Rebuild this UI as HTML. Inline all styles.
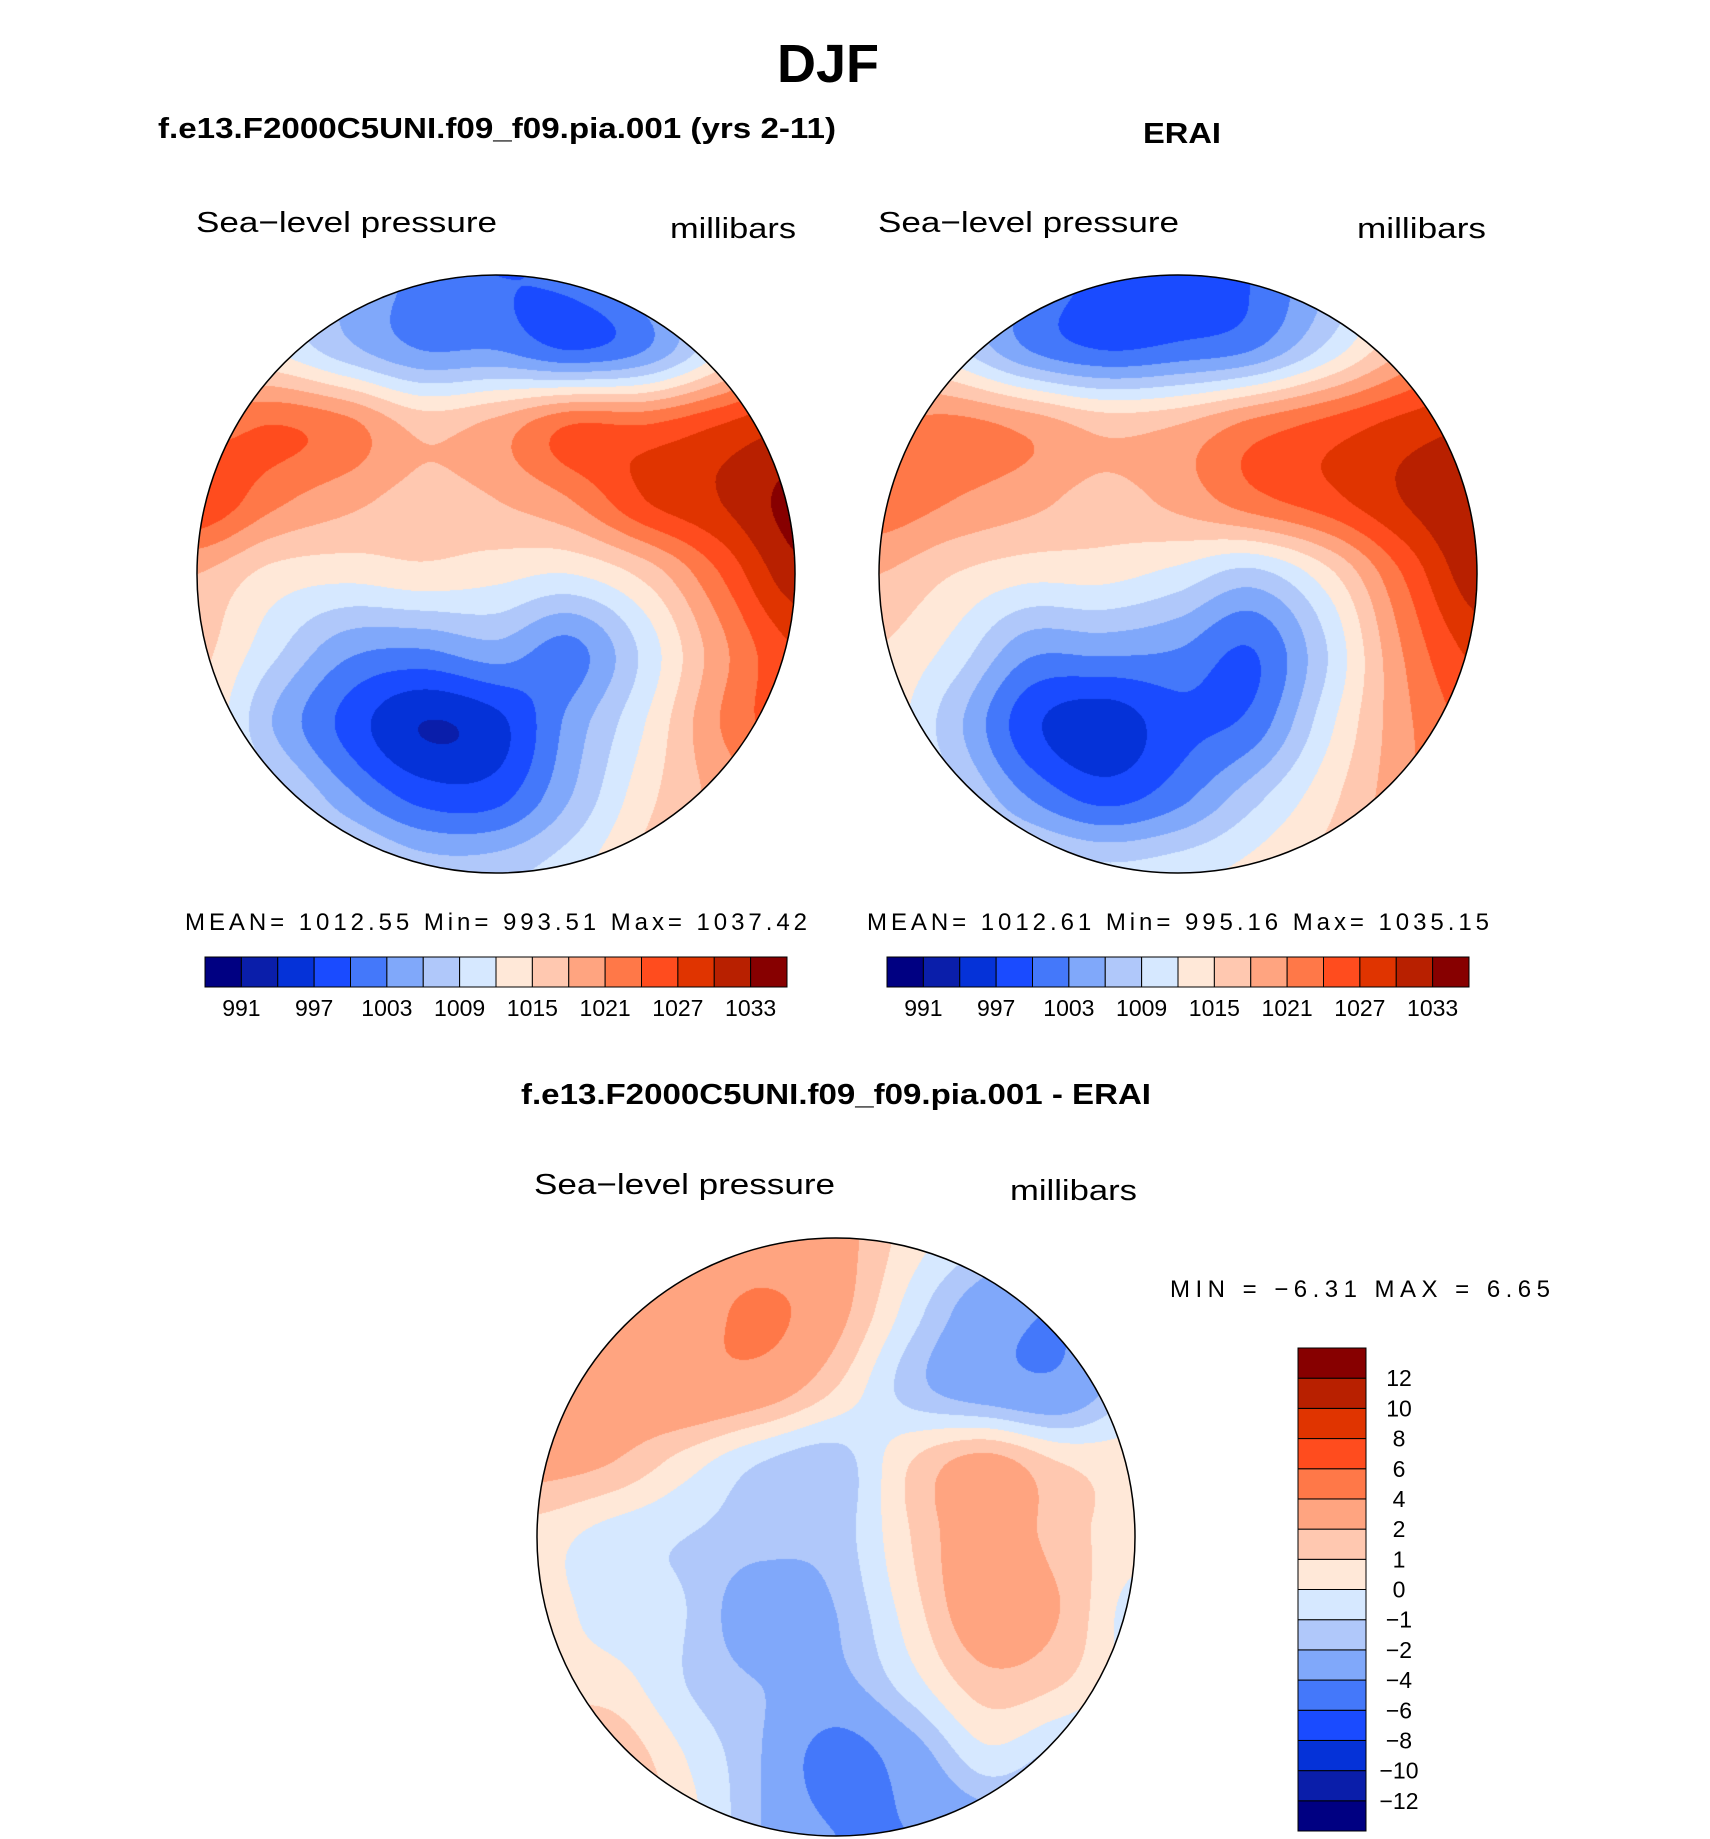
<!DOCTYPE html>
<html><head><meta charset="utf-8"><style>
html,body{margin:0;padding:0;background:#fff;}
#root{position:relative;width:1710px;height:1839px;overflow:hidden;}
canvas{position:absolute;}
svg{position:absolute;left:0;top:0;}
text{font-family:"Liberation Sans",sans-serif;fill:#000;}
.b{font-weight:bold;}
</style></head><body>
<div id="root">
<canvas id="m1" width="598" height="598" style="left:197px;top:275px"></canvas>
<canvas id="m2" width="598" height="598" style="left:879px;top:275px"></canvas>
<canvas id="m3" width="598" height="598" style="left:537px;top:1238px"></canvas>
<svg id="s" width="1710" height="1839">
<text x="828" y="82" text-anchor="middle" class="b" font-size="54">DJF</text>
<text x="158" y="138" class="b" font-size="29" textLength="678" lengthAdjust="spacingAndGlyphs">f.e13.F2000C5UNI.f09_f09.pia.001 (yrs 2-11)</text>
<text x="1143" y="143" class="b" font-size="29" textLength="78" lengthAdjust="spacingAndGlyphs">ERAI</text>
<text x="196" y="232" font-size="29" textLength="301" lengthAdjust="spacingAndGlyphs">Sea−level pressure</text>
<text x="670" y="238" font-size="29" textLength="126" lengthAdjust="spacingAndGlyphs">millibars</text>
<text x="878" y="232" font-size="29" textLength="301" lengthAdjust="spacingAndGlyphs">Sea−level pressure</text>
<text x="1357" y="238" font-size="29" textLength="129" lengthAdjust="spacingAndGlyphs">millibars</text>
<text x="185" y="930" font-size="24" textLength="622" lengthAdjust="spacing">MEAN=  1012.55   Min=  993.51   Max=  1037.42</text>
<text x="867" y="930" font-size="24" textLength="622" lengthAdjust="spacing">MEAN=  1012.61   Min=  995.16   Max=  1035.15</text>
<text x="521" y="1104" class="b" font-size="29" textLength="630" lengthAdjust="spacingAndGlyphs">f.e13.F2000C5UNI.f09_f09.pia.001 - ERAI</text>
<text x="534" y="1194" font-size="29" textLength="301" lengthAdjust="spacingAndGlyphs">Sea−level pressure</text>
<text x="1010" y="1200" font-size="29" textLength="127" lengthAdjust="spacingAndGlyphs">millibars</text>
<text x="1170" y="1297" font-size="24" textLength="380" lengthAdjust="spacing">MIN =   −6.31  MAX =    6.65</text>
<g id="bars"></g>
</svg>
</div>
<script>
const colors=["#000082","#0a1eaa","#0532d8","#1a4bff","#4478fa","#80a8fa","#b0c8fa","#d6e8ff","#ffe8d8","#ffc8b0","#ffa480","#ff7848","#ff4c1e","#e03400","#b82000","#870000"];
const absLevels=[991,994,997,1000,1003,1006,1009,1012,1015,1018,1021,1024,1027,1030,1033];
const absTickLabels=["991","997","1003","1009","1015","1021","1027","1033"];
const diffLevels=[-12,-10,-8,-6,-4,-2,-1,0,1,2,4,6,8,10,12];
const diffTickLabels=["−12","−10","−8","−6","−4","−2","−1","0","1","2","4","6","8","10","12"];
const modelGrid=[
[1012,1010,1006,1002,1000,1001,1006,1014,1020],
[1014,1012,1007,1003,1003,1000,1003,1012,1022],
[1022,1024,1022,1017,1019,1024,1024,1027,1030],
[1027,1022,1019,1017,1018,1021,1027,1030,1034],
[1018,1014,1013,1014,1013,1012,1016,1024,1032],
[1016,1010,1004,1003,1005,1002,1010,1020,1027],
[1015,1006,999,994,996,1004,1012,1021,1026],
[1015,1011,1004,999,999,1006,1014,1019,1022],
[1015,1015,1012,1008,1008,1011,1016,1020,1022]];
const eraiGrid=[
[1012,1008,1003,999,998,1000,1006,1014,1020],
[1016,1010,1003,1000,1001,1003,1010,1018,1024],
[1021,1022,1020,1017,1018,1022,1025,1028,1030],
[1023,1021,1019,1017,1019,1023,1026,1030,1033],
[1018,1015,1013,1013,1011,1008,1014,1024,1032],
[1015,1011,1004,1004,1003,1000,1009,1021,1028],
[1014,1007,998,995,999,1001,1011,1020,1025],
[1014,1010,1003,999,1002,1008,1014,1020,1024],
[1014,1014,1012,1010,1011,1013,1016,1020,1022]];
const diffGrid=[
[2,2,2,2.5,2.5,0.5,-1,-3,-2],
[3,3,3,4.5,2.5,-0.5,-3,-4,-2],
[3,3,3.5,3,1,-1.5,-3,-3.5,-1],
[2.5,2,0.5,-1,-1.5,1,2.5,1,0.5],
[0.5,-0.5,-1,-1.5,-1.5,1,3,1.5,0.5],
[0.5,-0.5,-1,-3,-2,0.5,3,2,-0.5],
[0.5,0.5,-1,-2,-2.5,-0.5,1.5,1,-0.5],
[2.5,2,0,-2,-5,-3,-0.5,-1.5,-2],
[3,2.5,0.5,-2,-4,-4,-3,-3,-2]];

function hex(c){return [parseInt(c.slice(1,3),16),parseInt(c.slice(3,5),16),parseInt(c.slice(5,7),16)];}
const rgb=colors.map(hex);
function level(v,lev){let i=0;while(i<lev.length&&v>=lev[i])i++;return i;}
function cr(p0,p1,p2,p3,t){return 0.5*((2*p1)+(-p0+p2)*t+(2*p0-5*p1+4*p2-p3)*t*t+(-p0+3*p1-3*p2+p3)*t*t*t);}
function sample(g,u,v){
  const n=g.length-1;const x=u*n,y=v*n;
  const i=Math.min(n-1,Math.floor(x)),j=Math.min(n-1,Math.floor(y));
  const fx=x-i,fy=y-j;
  const cl=k=>Math.max(0,Math.min(n,k));
  const rows=[];
  for(let m=-1;m<=2;m++){const r=g[cl(j+m)];rows.push(cr(r[cl(i-1)],r[cl(i)],r[cl(i+1)],r[cl(i+2)],fx));}
  return cr(rows[0],rows[1],rows[2],rows[3],fy);
}
function drawMap(id,grid,lev){
  const cv=document.getElementById(id),ctx=cv.getContext('2d');
  const W=cv.width,r=W/2;const img=ctx.createImageData(W,W);
  for(let y=0;y<W;y++)for(let x=0;x<W;x++){
    const k=(y*W+x)*4;const dx=x+0.5-r,dy=y+0.5-r;
    if(dx*dx+dy*dy>r*r){img.data[k+3]=0;continue;}
    const c=rgb[level(sample(grid,x/(W-1),y/(W-1)),lev)];
    img.data[k]=c[0];img.data[k+1]=c[1];img.data[k+2]=c[2];img.data[k+3]=255;
  }
  ctx.putImageData(img,0,0);
}
drawMap('m1',modelGrid,absLevels);
drawMap('m2',eraiGrid,absLevels);
drawMap('m3',diffGrid,diffLevels);
const NS="http://www.w3.org/2000/svg";
const svg=document.getElementById('s'),bars=document.getElementById('bars');
function mk(t,a){const e=document.createElementNS(NS,t);for(const k in a)e.setAttribute(k,a[k]);return e;}
[[496,574],[1178,574],[836,1537]].forEach((p,i)=>{
  const c=mk('circle',{cx:p[0],cy:p[1],r:299,fill:'none',stroke:'#000','stroke-width':1.5});
  
  
  svg.appendChild(c);
});
function hbar(x0,name){
  const y0=957,w=582,h=30,bw=w/colors.length;
  const g=mk('g',{});
  
  
  colors.forEach((c,i)=>{
    const r=mk('rect',{x:x0+i*bw,y:y0,width:bw,height:h,fill:c,stroke:'#000','stroke-width':1});
    
    
    g.appendChild(r);
  });
  absTickLabels.forEach((t,i)=>{
    const idx=absLevels.indexOf(+t);
    const tx=mk('text',{x:x0+(idx+1)*bw,y:1016,'text-anchor':'middle','font-size':23});
    tx.textContent=t;
    
    
    g.appendChild(tx);
  });
  bars.appendChild(g);
}
hbar(205,'left-colorbar');hbar(887,'right-colorbar');
(function(){
  const x0=1298,y0=1348,w=68,h=483,n=colors.length,bh=h/n;
  const g=mk('g',{});
  
  
  colors.forEach((c,i)=>{
    const r=mk('rect',{x:x0,y:y0+(n-1-i)*bh,width:w,height:bh,fill:c,stroke:'#000','stroke-width':1});
    
    
    g.appendChild(r);
  });
  diffTickLabels.forEach((t,i)=>{
    const yb=y0+(n-1-i)*bh;
    const tx=mk('text',{x:1399,y:yb+8,'text-anchor':'middle','font-size':23});
    tx.textContent=t;
    
    
    g.appendChild(tx);
  });
  bars.appendChild(g);
})();
</script>
</body></html>
